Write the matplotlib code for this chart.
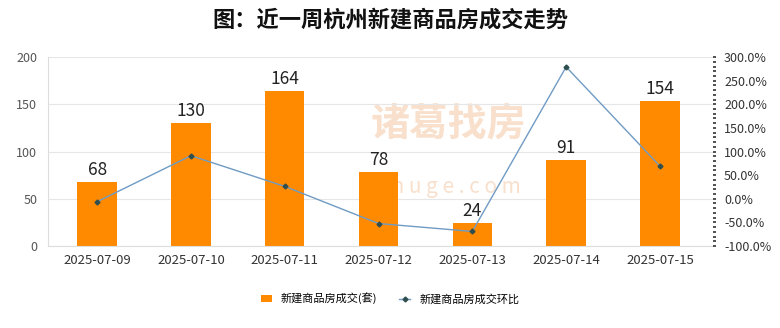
import matplotlib.pyplot as plt
from matplotlib.ticker import MultipleLocator, FuncFormatter

plt.rcParams['font.family'] = ['Noto Sans CJK SC', 'DejaVu Sans']

dates = ['2025-07-09', '2025-07-10', '2025-07-11', '2025-07-12',
         '2025-07-13', '2025-07-14', '2025-07-15']
deals = [68, 130, 164, 78, 24, 91, 154]
mom_pct = [-6.2, 91.2, 26.2, -52.4, -69.2, 279.2, 69.2]

bar_color = '#FF8A00'
line_color = '#6F9BC4'

fig = plt.figure(figsize=(7.8, 3.28), dpi=100)
ax = fig.add_axes([0.062, 0.25, 0.852, 0.576])
ax2 = ax.twinx()

# watermark (behind everything)
fig.text(0.575, 0.62, '诸葛找房', fontsize=28, color='#F8E0CC', ha='center',
         va='center', fontweight='bold', zorder=0)
fig.text(0.575, 0.43, 'z h u g e . c o m', fontsize=15, color='#F8E0CC',
         ha='center', va='center', zorder=0)
ax.set_zorder(1)
ax.patch.set_visible(False)
ax2.set_zorder(2)

x = range(len(dates))
bars = ax.bar(x, deals, width=0.42, color=bar_color, zorder=2,
              label='新建商品房成交(套)')
for xi, v in zip(x, deals):
    ax.text(xi, v + 3, str(v), ha='center', va='bottom', fontsize=12.5,
            color='#222222', zorder=4)

ax.set_ylim(0, 200)
ax.set_xlim(-0.52, len(dates) - 0.435)
ax.yaxis.set_major_locator(MultipleLocator(50))
ax.set_xticks(list(x))
ax.set_xticklabels(dates, fontsize=9.5, color='#333333')
ax.tick_params(axis='y', labelsize=9, colors='#555555', length=0, pad=8)
ax.tick_params(axis='x', length=0, pad=6)
ax.grid(axis='y', color='#E6E6E6', linewidth=0.8, zorder=0)
for s in ['top', 'right']:
    ax.spines[s].set_visible(False)
ax.spines['left'].set_color('#DDDDDD')
ax.spines['bottom'].set_color('#DDDDDD')

ln, = ax2.plot(x, mom_pct, color=line_color, linewidth=1.0, marker='D',
               markersize=2.5, markerfacecolor='#2F4F4F',
               markeredgecolor='#2F4F4F', zorder=3, label='新建商品房成交环比')
ax2.set_ylim(-100, 300)
ax2.yaxis.set_major_locator(MultipleLocator(50))
ax2.yaxis.set_minor_locator(MultipleLocator(10))
ax2.yaxis.set_major_formatter(FuncFormatter(lambda v, p: f'{v:.1f}%'))
ax2.tick_params(axis='y', which='major', labelsize=9, colors='#333333',
                length=2, width=1.2, pad=6)
ax2.tick_params(axis='y', which='minor', length=2, width=1.2, colors='#333333')
for s in ['top', 'left', 'bottom', 'right']:
    ax2.spines[s].set_visible(False)

fig.suptitle('图：近一周杭州新建商品房成交走势', fontsize=16, fontweight='bold',
             y=0.975, color='#111111')

fig.legend(handles=[bars, ln], loc='center', bbox_to_anchor=(0.5, 0.09),
           ncol=2, frameon=False, fontsize=8, handlelength=1.0,
           handleheight=0.6, columnspacing=2.0, handletextpad=0.8)

fig.savefig('out.png', dpi=100, facecolor='white')
